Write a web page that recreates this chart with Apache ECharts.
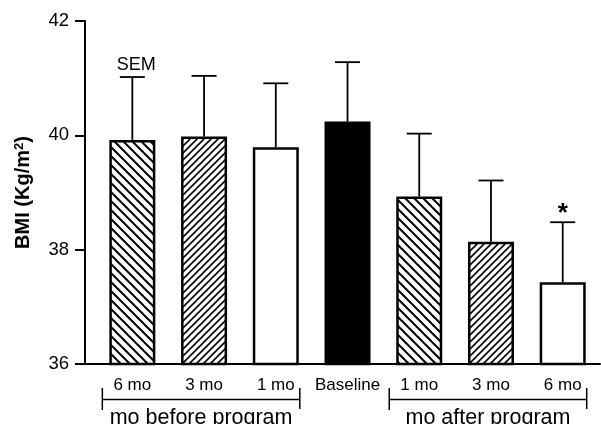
<!DOCTYPE html>
<html>
<head>
<meta charset="utf-8">
<script src="https://cdn.jsdelivr.net/npm/echarts@6/dist/echarts.min.js"></script>
<style>
  html, body { margin: 0; padding: 0; background: #fff; }
  #chart { width: 601px; height: 424px; }
</style>
</head>
<body>
<div id="chart"></div>
<script>
// data
var categories = ["6 mo", "3 mo", "1 mo", "Baseline", "1 mo", "3 mo", "6 mo"];
var bmi = [39.92, 39.98, 39.79, 40.24, 38.93, 38.14, 37.43];
var sem = [1.10, 1.06, 1.12, 1.04, 1.10, 1.07, 1.05];
var capNotes = ["SEM", "", "", "", "", "", "*"];
var yTicks = [36, 38, 40, 42];
var groupLabels = ["mo before program", "mo after program"];
var groupSpans = [[0, 2], [4, 6]];

// hatch fills
function hatch(period, width, forward) {
  var c = document.createElement("canvas");
  c.width = period;
  c.height = period;
  var ctx = c.getContext("2d");
  ctx.fillStyle = "#fff";
  ctx.fillRect(0, 0, period, period);
  ctx.strokeStyle = "#000";
  ctx.lineWidth = width;
  for (var k = -1; k <= 2; k++) {
    var cc = k * period;
    ctx.beginPath();
    if (forward) {
      ctx.moveTo(cc + 1, -1);
      ctx.lineTo(cc - period - 1, period + 1);
    } else {
      ctx.moveTo(cc - 1, -1);
      ctx.lineTo(cc + period + 1, period + 1);
    }
    ctx.stroke();
  }
  return { image: c, repeat: "repeat" };
}
var backHatch = hatch(9, 2, false);
var fwdHatch = hatch(7, 1.6, true);
var fills = [backHatch, fwdHatch, "#fff", "#000", backHatch, fwdHatch, "#fff"];

var barData = [];
var errData = [];
for (var i = 0; i < bmi.length; i++) {
  barData.push({ value: [i, bmi[i]], itemStyle: { color: fills[i] } });
  errData.push([i, bmi[i], sem[i]]);
}

var myChart = echarts.init(document.getElementById("chart"), null, { renderer: "canvas" });
myChart.setOption({
  backgroundColor: "#fff",
  animation: false,
  textStyle: { fontFamily: "Liberation Sans", color: "#000" },
  grid: { left: 85, right: 1, top: 21, bottom: 60, outerBoundsMode: "none" },
  xAxis: {
    type: "value",
    min: -0.66,
    max: 6.52,
    splitLine: { show: false },
    axisLine: { onZero: false, lineStyle: { color: "#000", width: 2 } },
    axisTick: { show: false },
    axisLabel: {
      customValues: [0, 1, 2, 3, 4, 5, 6],
      formatter: function (v) { return categories[Math.round(v)]; },
      fontSize: 17,
      color: "#000",
      margin: 13
    }
  },
  yAxis: {
    type: "value",
    min: yTicks[0],
    max: yTicks[yTicks.length - 1],
    interval: 2,
    name: "BMI (Kg/m{sup|2})",
    nameLocation: "middle",
    nameGap: 51,
    nameTextStyle: {
      fontSize: 20,
      fontWeight: "bold",
      color: "#000",
      rich: { sup: { fontSize: 13, fontWeight: "bold", verticalAlign: "top", padding: [0, 0, 8, 0] } }
    },
    splitLine: { show: false },
    axisLine: { show: true, onZero: false, lineStyle: { color: "#000", width: 2 } },
    axisTick: { show: true, length: 10, lineStyle: { color: "#000", width: 2 } },
    axisLabel: { fontSize: 18.5, color: "#000", margin: 16 }
  },
  series: [
    {
      type: "bar",
      barWidth: 46,
      itemStyle: { borderColor: "#000", borderWidth: 2.5 },
      data: barData,
      z: 2
    },
    {
      type: "custom",
      z: 3,
      encode: { x: 0, y: 1 },
      data: errData,
      renderItem: function (params, api) {
        var x = api.value(0);
        var base = api.coord([x, api.value(1)]);
        var top = api.coord([x, api.value(1) + api.value(2)]);
        var style = { stroke: "#000", lineWidth: 1.8 };
        var children = [
          { type: "line", shape: { x1: base[0], y1: base[1], x2: top[0], y2: top[1] }, style: style },
          { type: "line", shape: { x1: top[0] - 12.5, y1: top[1], x2: top[0] + 12.5, y2: top[1] }, style: style }
        ];
        var note = capNotes[params.dataIndex];
        if (note) {
          var star = note === "*";
          children.push({
            type: "text",
            style: {
              text: note,
              x: top[0] + (star ? 0 : 4),
              y: top[1] - (star ? 8 : 12),
              fill: "#000",
              font: (star ? "bold 26px" : "18px") + " Liberation Sans",
              align: "center",
              verticalAlign: "middle"
            }
          });
        }
        return { type: "group", children: children };
      }
    },
    {
      type: "custom",
      z: 3,
      encode: { x: [0, 1] },
      data: groupSpans,
      renderItem: function (params, api) {
        var a = api.coord([api.value(0), yTicks[0]]);
        var b = api.coord([api.value(1), yTicks[0]]);
        var x1 = a[0] - 30, x2 = b[0] + 24;
        var y0 = a[1];
        var style = { stroke: "#000", lineWidth: 1.5 };
        return {
          type: "group",
          children: [
            { type: "line", shape: { x1: x1, y1: y0 + 24, x2: x1, y2: y0 + 46 }, style: style },
            { type: "line", shape: { x1: x2, y1: y0 + 24, x2: x2, y2: y0 + 45 }, style: style },
            { type: "line", shape: { x1: x1, y1: y0 + 35.5, x2: x2, y2: y0 + 35.5 }, style: style },
            {
              type: "text",
              style: {
                text: groupLabels[params.dataIndex],
                x: (x1 + x2) / 2,
                y: y0 + 43,
                fill: "#000",
                font: "21.5px Liberation Sans",
                align: "center",
                verticalAlign: "top"
              }
            }
          ]
        };
      }
    }
  ]
});
</script>
</body>
</html>
